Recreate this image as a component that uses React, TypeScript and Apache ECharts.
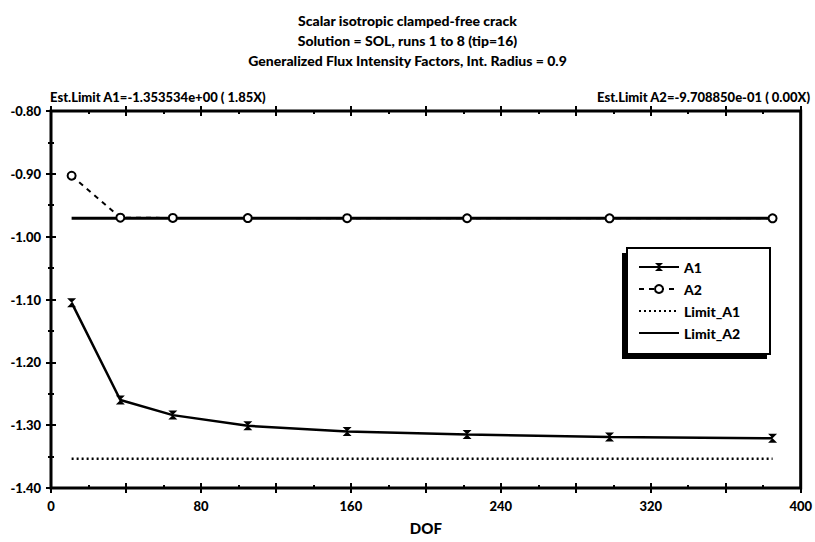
import React, { useEffect, useRef } from "react";
import * as echarts from "echarts";

const titleLines = [
  "Scalar isotropic clamped-free crack",
  "Solution = SOL, runs 1 to 8 (tip=16)",
  "Generalized Flux Intensity Factors, Int. Radius = 0.9",
];
const estLimitA1Text = "Est.Limit A1=-1.353534e+00 ( 1.85X)";
const estLimitA2Text = "Est.Limit A2=-9.708850e-01 ( 0.00X)";

const dof = [11, 37, 65, 105, 158, 222, 298, 385];
const a1 = [-1.105, -1.26, -1.284, -1.301, -1.31, -1.315, -1.319, -1.321];
const a2 = [-0.903, -0.9698, -0.9702, -0.9704, -0.9706, -0.9707, -0.9708, -0.9708];
const limitA1 = -1.353534;
const limitA2 = -0.970885;
const seriesNames = ["A1", "A2", "Limit_A1", "Limit_A2"];

const FONT = "Lato, 'Liberation Sans', sans-serif";
const HOURGLASS = "path://M0,0 L10,0 L5,5 L10,10 L0,10 L5,5 Z";

function makeX(position: "bottom" | "top", inside: boolean, labels: boolean) {
  return {
    type: "value",
    position,
    min: 0,
    max: 400,
    interval: 40,
    axisLine: { show: false },
    axisTick: { show: true, inside, length: 5, lineStyle: { color: "#000", width: 2 } },
    minorTick: { show: inside, splitNumber: 2, length: 3, lineStyle: { color: "#000", width: 2 } },
    splitLine: { show: false },
    minorSplitLine: { show: false },
    axisLabel: labels
      ? {
          show: true,
          margin: 11,
          color: "#000",
          fontFamily: FONT,
          fontWeight: 900,
          fontSize: 13,
          formatter: (v: number) => (v % 80 === 0 ? String(v) : ""),
        }
      : { show: false },
    name: labels ? "DOF" : "",
    nameLocation: "middle",
    nameGap: 32,
    nameTextStyle: { color: "#000", fontFamily: FONT, fontWeight: 900, fontSize: 15 },
  };
}

function makeY(position: "left" | "right", inside: boolean, labels: boolean) {
  return {
    type: "value",
    position,
    min: -1.4,
    max: -0.8,
    interval: 0.1,
    axisLine: { show: false },
    axisTick: { show: true, inside, length: 5, lineStyle: { color: "#000", width: 2 } },
    minorTick: { show: inside, splitNumber: 2, length: 3, lineStyle: { color: "#000", width: 2 } },
    splitLine: { show: false },
    minorSplitLine: { show: false },
    axisLabel: labels
      ? {
          show: true,
          margin: 10,
          color: "#000",
          fontFamily: FONT,
          fontWeight: 900,
          fontSize: 13,
          formatter: (v: number) => v.toFixed(2),
        }
      : { show: false },
  };
}

export default function App() {
  const ref = useRef<HTMLDivElement>(null);
  useEffect(() => {
    if (!ref.current) return;
    const chart = echarts.init(ref.current, null, { renderer: "svg" });
    const first = dof[0];
    const last = dof[dof.length - 1];
    chart.setOption({
      animation: false,
      backgroundColor: "#fff",
      title: {
        text: titleLines.join("\n"),
        left: "center",
        top: 5,
        textStyle: { color: "#000", fontFamily: FONT, fontWeight: 900, fontSize: 14, lineHeight: 20 },
      },
      grid: {
        left: 51,
        right: 6,
        top: 111,
        bottom: 54,
        show: true,
        borderColor: "#000",
        borderWidth: 3,
        backgroundColor: "transparent",
      },
      xAxis: [makeX("bottom", false, true), makeX("bottom", true, false), makeX("top", false, false), makeX("top", true, false)],
      yAxis: [makeY("left", false, true), makeY("left", true, false), makeY("right", false, false), makeY("right", true, false)],
      legend: {
        orient: "vertical",
        left: 633,
        top: 255,
        itemWidth: 40,
        itemHeight: 10,
        itemGap: 8,
        data: seriesNames,
        textStyle: { color: "#000", fontFamily: FONT, fontWeight: 900, fontSize: 14 },
      },
      graphic: [
        { type: "rect", z: 0, shape: { x: 622, y: 253, width: 145, height: 106 }, style: { fill: "#000" } },
        { type: "rect", z: 1, shape: { x: 627, y: 248, width: 143, height: 106 }, style: { fill: "#fff", stroke: "#000", lineWidth: 2 } },
        {
          type: "text",
          x: 50,
          y: 97,
          style: { text: estLimitA1Text, fill: "#000", font: `900 13px ${FONT}`, textVerticalAlign: "middle", verticalAlign: "middle" },
        },
        {
          type: "text",
          x: 810,
          y: 97,
          style: {
            text: estLimitA2Text,
            fill: "#000",
            font: `900 13px ${FONT}`,
            textAlign: "right",
            align: "right",
            textVerticalAlign: "middle",
            verticalAlign: "middle",
          },
        },
      ],
      series: [
        {
          name: seriesNames[0],
          type: "line",
          data: dof.map((d, i) => [d, a1[i]]),
          symbol: HOURGLASS,
          symbolSize: 9,
          lineStyle: { color: "#000", width: 2.5 },
          itemStyle: { color: "#000" },
        },
        {
          name: seriesNames[1],
          type: "line",
          data: dof.map((d, i) => [d, a2[i]]),
          symbol: "circle",
          symbolSize: 8,
          lineStyle: { color: "#000", width: 2, type: [5, 5] },
          itemStyle: { color: "#fff", borderColor: "#000", borderWidth: 2 },
        },
        {
          name: seriesNames[2],
          type: "line",
          data: [[first, limitA1], [last, limitA1]],
          symbol: "rect",
          showSymbol: false,
          lineStyle: { color: "#000", width: 2.5, type: [2, 3] },
          itemStyle: { color: "rgba(0,0,0,0)" },
        },
        {
          name: seriesNames[3],
          type: "line",
          data: [[first, limitA2], [last, limitA2]],
          symbol: "rect",
          showSymbol: false,
          z: 1,
          lineStyle: { color: "#000", width: 3 },
          itemStyle: { color: "rgba(0,0,0,0)" },
        },
      ],
    });
    return () => chart.dispose();
  }, []);
  return <div ref={ref} style={{ position: "absolute", left: 0, top: 0, width: 815, height: 542 }} />;
}
